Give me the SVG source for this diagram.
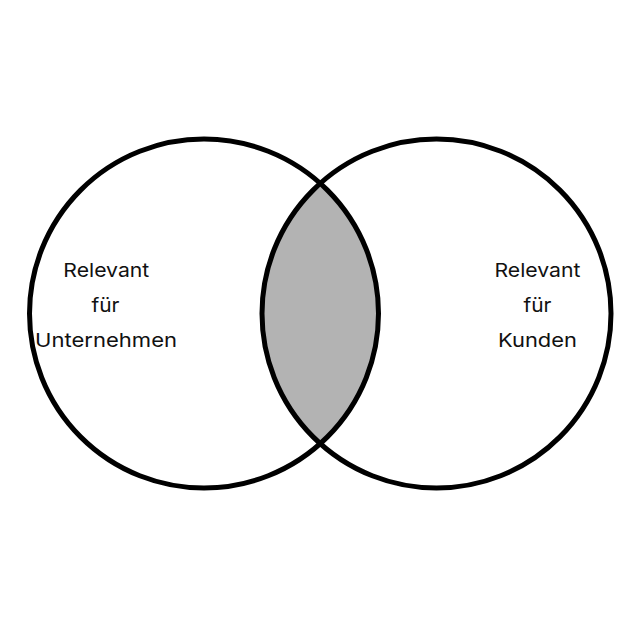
<svg xmlns="http://www.w3.org/2000/svg" width="639" height="640" viewBox="0 0 639 640">
<style>
.ring{fill:none;stroke:#000;stroke-width:5}
.lbl{font-family:"Inter","Liberation Sans",sans-serif;font-size:19px;font-weight:400;fill:#111;text-anchor:middle}
</style>
<rect width="639" height="640" fill="#fff"/>
<g id="intersection">
<path d="M320.25,183.4 A174.5,174.5 0 0 1 320.25,443.6 A174.5,174.5 0 0 1 320.25,183.4 Z" fill="#b3b3b3"/>
</g>
<g id="left-set">
<circle class="ring" cx="204" cy="313.5" r="174.5"/>
<text class="lbl" x="106.3" y="277" textLength="86" lengthAdjust="spacingAndGlyphs">Relevant</text>
<text class="lbl" x="105.5" y="312" textLength="28" lengthAdjust="spacingAndGlyphs">für</text>
<text class="lbl" x="106" y="347" textLength="142" lengthAdjust="spacingAndGlyphs">Unternehmen</text>
</g>
<g id="right-set">
<circle class="ring" cx="436.5" cy="313.5" r="174.5"/>
<text class="lbl" x="537.5" y="277" textLength="86" lengthAdjust="spacingAndGlyphs">Relevant</text>
<text class="lbl" x="537.5" y="312" textLength="28" lengthAdjust="spacingAndGlyphs">für</text>
<text class="lbl" x="537.5" y="347" textLength="79" lengthAdjust="spacingAndGlyphs">Kunden</text>
</g>
</svg>
